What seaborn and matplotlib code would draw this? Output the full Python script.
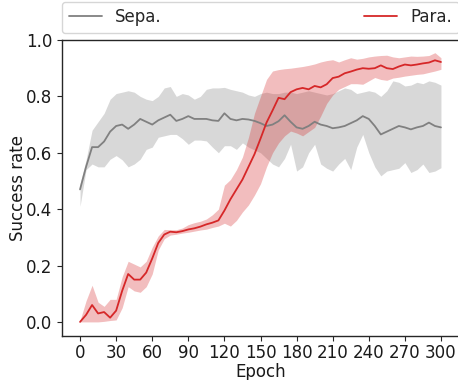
import numpy as np
import pandas as pd
import seaborn as sns
import matplotlib
matplotlib.use("Agg")
import matplotlib.pyplot as plt

epochs = list(range(0, 301, 5))

sepa_mean = [0.47, 0.55, 0.62, 0.62, 0.64, 0.675, 0.695, 0.70, 0.685, 0.70,
             0.72, 0.71, 0.70, 0.715, 0.725, 0.735, 0.713, 0.72, 0.73, 0.72,
             0.72, 0.72, 0.715, 0.713, 0.74, 0.72, 0.715, 0.72, 0.718, 0.713,
             0.705, 0.695, 0.70, 0.712, 0.733, 0.71, 0.69, 0.685, 0.695, 0.71,
             0.70, 0.695, 0.687, 0.69, 0.695, 0.705, 0.715, 0.73, 0.72, 0.695,
             0.665, 0.675, 0.685, 0.695, 0.69, 0.683, 0.69, 0.695, 0.707, 0.695,
             0.69]
sepa_upper = [0.49, 0.575, 0.68, 0.71, 0.74, 0.79, 0.81, 0.815, 0.82, 0.815,
              0.80, 0.79, 0.785, 0.80, 0.83, 0.835, 0.80, 0.81, 0.805, 0.79,
              0.80, 0.825, 0.83, 0.83, 0.832, 0.825, 0.82, 0.815, 0.805, 0.80,
              0.81, 0.815, 0.81, 0.81, 0.815, 0.815, 0.81, 0.815, 0.82, 0.815,
              0.81, 0.805, 0.81, 0.82, 0.83, 0.825, 0.81, 0.815, 0.82, 0.815,
              0.80, 0.82, 0.855, 0.85, 0.837, 0.84, 0.85, 0.845, 0.855, 0.85,
              0.84]
sepa_lower = [0.41, 0.54, 0.56, 0.55, 0.55, 0.577, 0.59, 0.575, 0.55, 0.56,
              0.577, 0.612, 0.62, 0.655, 0.66, 0.665, 0.665, 0.65, 0.63, 0.645,
              0.645, 0.642, 0.62, 0.60, 0.625, 0.625, 0.612, 0.635, 0.62, 0.61,
              0.60, 0.58, 0.56, 0.55, 0.58, 0.63, 0.535, 0.55, 0.60, 0.63,
              0.56, 0.545, 0.535, 0.56, 0.58, 0.54, 0.62, 0.665, 0.60, 0.55,
              0.518, 0.535, 0.54, 0.545, 0.565, 0.53, 0.54, 0.56, 0.53, 0.535,
              0.547]

para_mean = [0.0, 0.025, 0.06, 0.03, 0.035, 0.015, 0.04, 0.11, 0.17, 0.15,
             0.15, 0.175, 0.225, 0.28, 0.31, 0.32, 0.318, 0.322, 0.328, 0.332,
             0.338, 0.346, 0.352, 0.36, 0.395, 0.435, 0.47, 0.505, 0.55, 0.595,
             0.65, 0.707, 0.75, 0.795, 0.79, 0.815, 0.825, 0.83, 0.825, 0.837,
             0.832, 0.843, 0.865, 0.87, 0.882, 0.888, 0.895, 0.90, 0.898, 0.90,
             0.91, 0.90, 0.897, 0.906, 0.913, 0.91, 0.913, 0.917, 0.92, 0.928,
             0.922]
para_upper = [0.005, 0.075, 0.13, 0.07, 0.055, 0.08, 0.08, 0.16, 0.215, 0.205,
              0.195, 0.215, 0.265, 0.305, 0.328, 0.327, 0.327, 0.333, 0.345, 0.352,
              0.357, 0.365, 0.38, 0.40, 0.485, 0.505, 0.54, 0.585, 0.655, 0.74,
              0.80, 0.86, 0.89, 0.895, 0.898, 0.90, 0.903, 0.906, 0.91, 0.915,
              0.922, 0.927, 0.93, 0.922, 0.93, 0.937, 0.932, 0.935, 0.94, 0.943,
              0.945, 0.946, 0.94, 0.937, 0.94, 0.943, 0.942, 0.943, 0.945, 0.955,
              0.937]
para_lower = [0.0, 0.0, 0.0, 0.0, 0.002, 0.005, 0.007, 0.05, 0.125, 0.11,
              0.105, 0.125, 0.17, 0.255, 0.295, 0.308, 0.311, 0.315, 0.318, 0.322,
              0.326, 0.329, 0.335, 0.34, 0.35, 0.34, 0.36, 0.39, 0.415, 0.45,
              0.49, 0.55, 0.60, 0.635, 0.66, 0.677, 0.67, 0.66, 0.675, 0.69,
              0.73, 0.775, 0.805, 0.825, 0.835, 0.845, 0.845, 0.843, 0.855, 0.867,
              0.86, 0.857, 0.865, 0.868, 0.872, 0.875, 0.878, 0.88, 0.885, 0.89,
              0.896]

xticks = list(range(0, 301, 30))
yticks = [0.0, 0.2, 0.4, 0.6, 0.8, 1.0]

sns.set_theme(style="ticks", context="notebook")
plt.rcParams['font.family'] = ['DejaVu Sans']

fig = plt.figure(figsize=(4.58, 3.80), dpi=100)
ax = fig.add_axes([62/458, 44/380, 397/458, 296/380])

df = pd.DataFrame({
    "Epoch": epochs * 2,
    "rate": sepa_mean + para_mean,
    "method": ["Sepa."] * len(epochs) + ["Para."] * len(epochs),
})

gray = "#808080"
red = "#d62728"

ax.fill_between(epochs, sepa_lower, sepa_upper, color=gray, alpha=0.3, linewidth=0)
sns.lineplot(data=df[df.method == "Sepa."], x="Epoch", y="rate", color=gray,
             lw=1.3, ax=ax, label="Sepa.")
ax.fill_between(epochs, para_lower, para_upper, color=red, alpha=0.3, linewidth=0)
sns.lineplot(data=df[df.method == "Para."], x="Epoch", y="rate", color=red,
             lw=1.3, ax=ax, label="Para.")

ax.set_xlim(-15, 315)
ax.set_ylim(-0.05, 1.0)
ax.set_xticks(xticks)
ax.set_yticks(yticks)
ax.set_xticklabels([str(t) for t in xticks])
ax.set_yticklabels([f"{t:.1f}" for t in yticks])
ax.tick_params(axis="both", labelsize=12, length=3.5, width=0.8, pad=3.5,
               color="#262626", labelcolor="#1a1a1a")
ax.tick_params(axis="x", pad=2.5)
ax.set_xlabel("Epoch", fontsize=12, labelpad=0.5, color="#1a1a1a")
ax.set_ylabel("Success rate", fontsize=12, labelpad=-1, color="#1a1a1a")
for s in ax.spines.values():
    s.set_color("#262626")
    s.set_linewidth(1.0)

ax.legend(loc="lower left", bbox_to_anchor=(0, 1.024, 1, 0.1), mode="expand",
          ncol=2, borderaxespad=0, fontsize=12, frameon=True)

fig.savefig("out.png", dpi=100)
